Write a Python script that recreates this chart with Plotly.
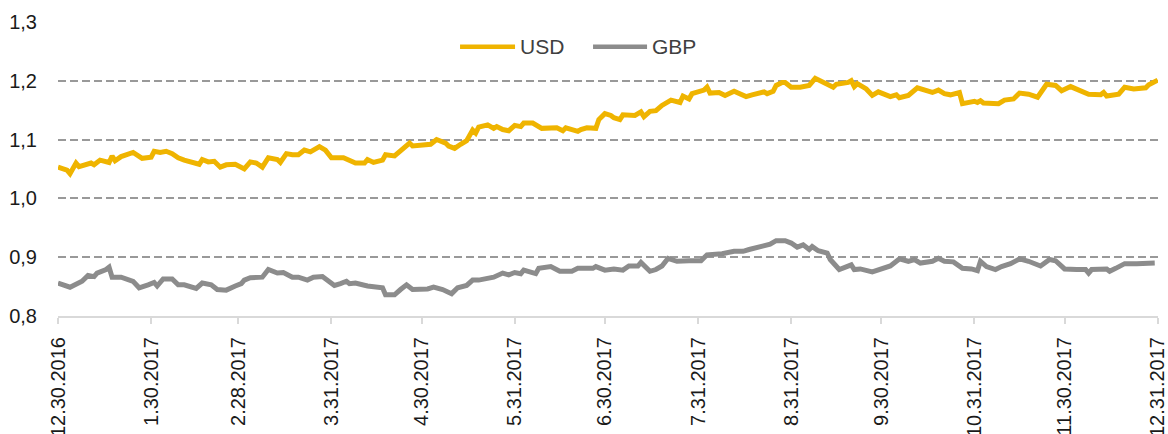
import plotly.graph_objects as go

# ---------------- data ----------------
usd_dates = [
    "2016-12-30", "2017-01-02", "2017-01-03", "2017-01-05", "2017-01-06", "2017-01-10", "2017-01-11",
    "2017-01-13", "2017-01-16", "2017-01-17", "2017-01-18", "2017-01-20", "2017-01-24", "2017-01-25",
    "2017-01-27", "2017-01-30", "2017-01-31", "2017-02-02", "2017-02-04", "2017-02-06", "2017-02-08",
    "2017-02-10", "2017-02-15", "2017-02-16", "2017-02-18", "2017-02-20", "2017-02-22", "2017-02-24",
    "2017-02-27", "2017-03-02", "2017-03-04", "2017-03-06", "2017-03-08", "2017-03-10", "2017-03-13",
    "2017-03-14", "2017-03-16", "2017-03-18", "2017-03-20", "2017-03-22", "2017-03-24", "2017-03-27",
    "2017-03-29", "2017-03-31", "2017-04-04", "2017-04-08", "2017-04-11", "2017-04-12", "2017-04-14",
    "2017-04-17", "2017-04-18", "2017-04-21", "2017-04-26", "2017-04-27", "2017-05-01", "2017-05-03",
    "2017-05-05", "2017-05-08", "2017-05-09", "2017-05-11", "2017-05-13", "2017-05-15", "2017-05-17",
    "2017-05-18", "2017-05-19", "2017-05-22", "2017-05-24", "2017-05-25", "2017-05-27", "2017-05-29",
    "2017-05-31", "2017-06-02", "2017-06-03", "2017-06-06", "2017-06-09", "2017-06-14", "2017-06-16",
    "2017-06-17", "2017-06-21", "2017-06-22", "2017-06-24", "2017-06-27", "2017-06-28", "2017-06-30",
    "2017-07-02", "2017-07-03", "2017-07-05", "2017-07-06", "2017-07-10", "2017-07-12", "2017-07-13",
    "2017-07-15", "2017-07-17", "2017-07-19", "2017-07-22", "2017-07-25", "2017-07-26", "2017-07-28",
    "2017-07-29", "2017-08-01", "2017-08-02", "2017-08-03", "2017-08-04", "2017-08-07", "2017-08-09",
    "2017-08-12", "2017-08-15", "2017-08-16", "2017-08-18", "2017-08-22", "2017-08-23", "2017-08-25",
    "2017-08-26", "2017-08-28", "2017-08-29", "2017-08-31", "2017-09-03", "2017-09-06", "2017-09-08",
    "2017-09-10", "2017-09-12", "2017-09-14", "2017-09-15", "2017-09-19", "2017-09-20", "2017-09-21",
    "2017-09-22", "2017-09-25", "2017-09-27", "2017-09-29", "2017-10-03", "2017-10-05", "2017-10-06",
    "2017-10-09", "2017-10-12", "2017-10-14", "2017-10-17", "2017-10-19", "2017-10-21", "2017-10-23",
    "2017-10-26", "2017-10-27", "2017-10-31", "2017-11-01", "2017-11-02", "2017-11-03", "2017-11-08",
    "2017-11-10", "2017-11-13", "2017-11-15", "2017-11-18", "2017-11-21", "2017-11-24", "2017-11-27",
    "2017-11-29", "2017-12-02", "2017-12-04", "2017-12-08", "2017-12-12", "2017-12-13", "2017-12-14",
    "2017-12-18", "2017-12-20", "2017-12-23", "2017-12-27", "2017-12-28", "2017-12-31",
]
usd_values = [
    1.053, 1.048, 1.042, 1.060, 1.054, 1.060, 1.057,
    1.065, 1.061, 1.072, 1.064, 1.071, 1.078, 1.075,
    1.068, 1.070, 1.080, 1.078, 1.080, 1.076, 1.069,
    1.065, 1.058, 1.066, 1.062, 1.063, 1.053, 1.057,
    1.058, 1.050, 1.062, 1.060, 1.053, 1.069, 1.066,
    1.061, 1.076, 1.074, 1.074, 1.082, 1.079, 1.088,
    1.082, 1.069, 1.069, 1.060, 1.060, 1.066, 1.061,
    1.065, 1.074, 1.072, 1.094, 1.089, 1.090, 1.092,
    1.100, 1.094, 1.089, 1.085, 1.092, 1.098, 1.116,
    1.111, 1.121, 1.125, 1.119, 1.122, 1.117, 1.115,
    1.124, 1.122, 1.128, 1.128, 1.119, 1.120, 1.115,
    1.120, 1.114, 1.117, 1.120, 1.119, 1.134, 1.144,
    1.141, 1.137, 1.134, 1.142, 1.141, 1.147, 1.139,
    1.148, 1.149, 1.158, 1.167, 1.163, 1.174, 1.169,
    1.178, 1.183, 1.184, 1.189, 1.179, 1.180, 1.175,
    1.182, 1.176, 1.173, 1.176, 1.181, 1.178, 1.182,
    1.192, 1.197, 1.197, 1.189, 1.189, 1.192, 1.204,
    1.199, 1.195, 1.189, 1.194, 1.197, 1.200, 1.190,
    1.195, 1.186, 1.175, 1.181, 1.173, 1.176, 1.171,
    1.175, 1.188, 1.184, 1.180, 1.184, 1.178, 1.176,
    1.180, 1.161, 1.165, 1.163, 1.166, 1.162, 1.161,
    1.167, 1.169, 1.179, 1.177, 1.172, 1.194, 1.192,
    1.183, 1.190, 1.186, 1.177, 1.176, 1.180, 1.174,
    1.177, 1.189, 1.186, 1.188, 1.193, 1.201,
]

gbp_dates = [
    "2016-12-30", "2017-01-03", "2017-01-07", "2017-01-09", "2017-01-11", "2017-01-12", "2017-01-15",
    "2017-01-16", "2017-01-17", "2017-01-20", "2017-01-24", "2017-01-26", "2017-01-29", "2017-01-31",
    "2017-02-01", "2017-02-03", "2017-02-06", "2017-02-08", "2017-02-10", "2017-02-14", "2017-02-16",
    "2017-02-19", "2017-02-21", "2017-02-24", "2017-02-27", "2017-03-01", "2017-03-02", "2017-03-04",
    "2017-03-08", "2017-03-10", "2017-03-13", "2017-03-15", "2017-03-18", "2017-03-20", "2017-03-23",
    "2017-03-25", "2017-03-28", "2017-03-29", "2017-04-01", "2017-04-03", "2017-04-05", "2017-04-06",
    "2017-04-08", "2017-04-12", "2017-04-15", "2017-04-17", "2017-04-18", "2017-04-21", "2017-04-23",
    "2017-04-25", "2017-04-27", "2017-04-30", "2017-05-02", "2017-05-04", "2017-05-07", "2017-05-10",
    "2017-05-12", "2017-05-15", "2017-05-17", "2017-05-19", "2017-05-22", "2017-05-24", "2017-05-27",
    "2017-05-29", "2017-05-31", "2017-06-02", "2017-06-03", "2017-06-07", "2017-06-08", "2017-06-12",
    "2017-06-15", "2017-06-19", "2017-06-21", "2017-06-26", "2017-06-27", "2017-06-30", "2017-07-03",
    "2017-07-06", "2017-07-08", "2017-07-11", "2017-07-12", "2017-07-15", "2017-07-17", "2017-07-19",
    "2017-07-21", "2017-07-24", "2017-07-28", "2017-08-01", "2017-08-03", "2017-08-08", "2017-08-12",
    "2017-08-15", "2017-08-17", "2017-08-22", "2017-08-24", "2017-08-26", "2017-08-29", "2017-08-31",
    "2017-09-02", "2017-09-04", "2017-09-06", "2017-09-07", "2017-09-09", "2017-09-12", "2017-09-13",
    "2017-09-16", "2017-09-20", "2017-09-21", "2017-09-23", "2017-09-27", "2017-09-30", "2017-10-03",
    "2017-10-06", "2017-10-09", "2017-10-11", "2017-10-13", "2017-10-17", "2017-10-19", "2017-10-21",
    "2017-10-24", "2017-10-27", "2017-10-30", "2017-11-01", "2017-11-02", "2017-11-04", "2017-11-07",
    "2017-11-09", "2017-11-12", "2017-11-15", "2017-11-18", "2017-11-22", "2017-11-25", "2017-11-27",
    "2017-11-30", "2017-12-04", "2017-12-07", "2017-12-08", "2017-12-09", "2017-12-14", "2017-12-15",
    "2017-12-17", "2017-12-20", "2017-12-24", "2017-12-30",
]
gbp_values = [
    0.856, 0.849, 0.859, 0.869, 0.867, 0.873, 0.879,
    0.883, 0.866, 0.866, 0.859, 0.848, 0.853, 0.857,
    0.851, 0.863, 0.863, 0.853, 0.853, 0.847, 0.856,
    0.853, 0.845, 0.844, 0.851, 0.855, 0.861, 0.865,
    0.866, 0.879, 0.873, 0.874, 0.866, 0.866, 0.861,
    0.866, 0.867, 0.863, 0.852, 0.855, 0.859, 0.855,
    0.856, 0.851, 0.848, 0.848, 0.836, 0.836, 0.845,
    0.853, 0.845, 0.846, 0.846, 0.849, 0.845, 0.838,
    0.848, 0.852, 0.861, 0.861, 0.865, 0.866, 0.873,
    0.870, 0.874, 0.872, 0.878, 0.872, 0.881, 0.884,
    0.876, 0.876, 0.881, 0.881, 0.884, 0.878, 0.880,
    0.878, 0.885, 0.885, 0.891, 0.876, 0.879, 0.885,
    0.898, 0.893, 0.894, 0.894, 0.904, 0.906, 0.910,
    0.910, 0.913, 0.918, 0.922, 0.928, 0.928, 0.924,
    0.917, 0.921, 0.913, 0.918, 0.911, 0.907, 0.896,
    0.879, 0.887, 0.879, 0.880, 0.875, 0.881, 0.885,
    0.897, 0.893, 0.896, 0.890, 0.893, 0.898, 0.893,
    0.892, 0.881, 0.880, 0.877, 0.893, 0.884, 0.879,
    0.884, 0.889, 0.897, 0.893, 0.885, 0.896, 0.894,
    0.880, 0.879, 0.879, 0.873, 0.879, 0.880, 0.876,
    0.881, 0.889, 0.889, 0.890,
]

tick_dates = [
    "2016-12-30", "2017-01-30", "2017-02-28", "2017-03-31", "2017-04-30", "2017-05-31", "2017-06-30",
    "2017-07-31", "2017-08-31", "2017-09-30", "2017-10-31", "2017-11-30", "2017-12-31",
]
tick_labels = [
    "12.30.2016", "1.30.2017", "2.28.2017", "3.31.2017", "4.30.2017", "5.31.2017", "6.30.2017",
    "7.31.2017", "8.31.2017", "9.30.2017", "10.31.2017", "11.30.2017", "12.31.2017",
]
y_ticks = [0.8, 0.9, 1.0, 1.1, 1.2, 1.3]
series_names = ["USD", "GBP"]

USD_COLOR = "#EFB400"
GBP_COLOR = "#8C8C8C"
FONT = "Liberation Sans, Arial, sans-serif"
LINE_W = 5

fig = go.Figure()
fig.add_trace(go.Scatter(x=usd_dates, y=usd_values, name=series_names[0], mode="lines",
                         line=dict(color=USD_COLOR, width=LINE_W), showlegend=False))
fig.add_trace(go.Scatter(x=gbp_dates, y=gbp_values, name=series_names[1], mode="lines",
                         line=dict(color=GBP_COLOR, width=LINE_W), showlegend=False))

# legend drawn as key lines + labels (wider key lines than Plotly's built-in legend allows)
legend_y = 0.913
legend_items = [
    (series_names[0], USD_COLOR, 0.3655, 0.4155),
    (series_names[1], GBP_COLOR, 0.4864, 0.5355),
]
for name, color, x0, x1 in legend_items:
    fig.add_shape(type="line", xref="paper", yref="paper", x0=x0, x1=x1, y0=legend_y, y1=legend_y,
                  line=dict(color=color, width=4.5))
    fig.add_annotation(xref="paper", yref="paper", x=x1 + 0.003, y=legend_y, text=name,
                       showarrow=False, xanchor="left", yanchor="middle",
                       font=dict(size=21, color="#404040", family=FONT))

fig.update_layout(
    template="none",
    width=1168, height=434,
    margin=dict(l=58, r=10, t=21, b=118, pad=0, autoexpand=False),
    paper_bgcolor="white", plot_bgcolor="white",
    separators=",.",
    font=dict(family=FONT, size=20, color="#1a1a1a"),
    showlegend=False,
    xaxis=dict(
        type="date", range=["2016-12-30", "2017-12-31 02:00"], automargin=False,
        tickmode="array", tickvals=tick_dates, ticktext=tick_labels,
        tickangle=-90, ticks="outside", ticklen=6, tickwidth=1.5, tickcolor="#d9d9d9",
        showline=True, linecolor="#d9d9d9", linewidth=2,
        showgrid=False, zeroline=False,
        tickfont=dict(size=20, color="#1a1a1a"),
        ticklabelstandoff=5, ticklabeloverflow="allow",
    ),
    yaxis=dict(
        range=[0.8, 1.3015], automargin=False,
        tickmode="array", tickvals=y_ticks, tickformat=".1f",
        showgrid=True, gridcolor="#999999", gridwidth=2, griddash="8px,4px",
        zeroline=False, showline=False, ticks="",
        tickfont=dict(size=20, color="#1a1a1a"),
        ticklabelstandoff=20,
    ),
)

fig.write_html("out.html", config={"displayModeBar": False},
               post_script="document.body.style.margin='0';")
